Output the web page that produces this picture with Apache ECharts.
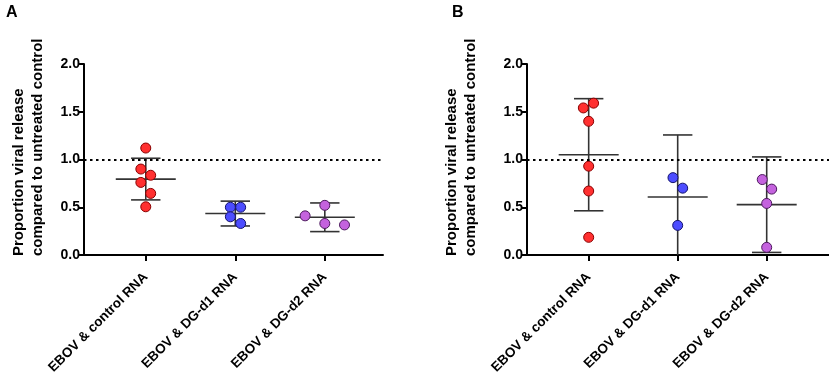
<!DOCTYPE html>
<html>
<head>
<meta charset="utf-8">
<script src="https://cdn.jsdelivr.net/npm/echarts@6.0.0/dist/echarts.min.js"></script>
<style>
  html, body { margin: 0; padding: 0; background: #fff; }
  #chart { width: 829px; height: 384px; }
</style>
</head>
<body>
<div id="chart"></div>
<script>
  // groups on the x axis
  var categories = ['EBOV & control RNA', 'EBOV & DG-d1 RNA', 'EBOV & DG-d2 RNA'];
  var yTicks = [0, 0.5, 1.0, 1.5, 2.0];

  // panel A – individual replicates
  var ctrlA = [1.12, 0.90, 0.835, 0.76, 0.645, 0.505];
  var d1A = [0.50, 0.50, 0.40, 0.33];
  var d2A = [0.52, 0.41, 0.33, 0.315];
  var meanA = [0.795, 0.434, 0.395];
  var sdA = [0.218, 0.13, 0.15];
  var pTextA = ['P=0.024', 'P=0.001', 'P=0.001'];
  var pYA = [1.56, 1.14, 1.14];

  // panel B – individual replicates
  var ctrlB = [1.59, 1.54, 1.40, 0.93, 0.67, 0.185];
  var d1B = [0.81, 0.70, 0.31];
  var d2B = [0.79, 0.69, 0.54, 0.08];
  var meanB = [1.05, 0.607, 0.527];
  var sdB = [0.587, 0.65, 0.50];
  var pTextB = ['', 'P=0.118', 'P=0.054'];
  var pYB = [null, 1.41, 1.41];

  // horizontal scatter offsets of the dots (as in the figure)
  var jitCtrlA = [0, -0.055, 0.055, -0.055, 0.055, 0];
  var jitD1A = [-0.055, 0.06, -0.055, 0.06];
  var jitD2A = [0, -0.22, 0, 0.22];
  var jitCtrlB = [0.055, -0.06, 0, 0, 0, 0];
  var jitD1B = [-0.053, 0.056, 0];
  var jitD2B = [-0.05, 0.056, 0, 0];

  var FONT = "'Liberation Sans', Arial, sans-serif";
  var colors = [
    { fill: '#ff3030', border: '#8a0000' },
    { fill: '#4d4dff', border: '#14146e' },
    { fill: '#c462de', border: '#4d1a5e' }
  ];

  function pts(values, jit, idx) {
    return values.map(function (v, i) { return [idx + jit[i], v]; });
  }

  function errorBars(means, sds) {
    return means.map(function (m, i) { return [i, m, sds[i]]; });
  }

  function renderBar(params, api) {
    var x = api.value(0), m = api.value(1), s = api.value(2);
    var c = api.coord([x, m]);
    var hi = api.coord([x, m + s]);
    var lo = api.coord([x, Math.max(0, m - s)]);
    var st = { stroke: '#333', lineWidth: 1.6 };
    var kids = [
      { type: 'line', shape: { x1: c[0] - 30, y1: c[1], x2: c[0] + 30, y2: c[1] }, style: st },
      { type: 'line', shape: { x1: c[0], y1: hi[1], x2: c[0], y2: lo[1] }, style: st },
      { type: 'line', shape: { x1: c[0] - 14.7, y1: hi[1], x2: c[0] + 14.7, y2: hi[1] }, style: st }
    ];
    if (m - s >= 0) {
      kids.push({ type: 'line', shape: { x1: c[0] - 14.7, y1: lo[1], x2: c[0] + 14.7, y2: lo[1] }, style: st });
    }
    return { type: 'group', children: kids };
  }

  function panelSeries(gi, groups, means, sds, pText, pY) {
    var out = [];
    out.push({
      type: 'custom',
      xAxisIndex: gi, yAxisIndex: gi,
      renderItem: renderBar,
      data: errorBars(means, sds),
      silent: true, z: 2
    });
    groups.forEach(function (g, idx) {
      out.push({
        type: 'scatter',
        xAxisIndex: gi, yAxisIndex: gi,
        symbolSize: 10,
        itemStyle: { color: colors[idx].fill, borderColor: colors[idx].border, borderWidth: 1, opacity: 1 },
        data: pts(g[0], g[1], idx),
        silent: true, z: 4,
        markLine: idx === 0 ? {
          silent: true, symbol: 'none', label: { show: false },
          lineStyle: { color: '#000', type: [2.5, 3.5], width: 2 },
          data: [{ yAxis: 1 }]
        } : undefined
      });
    });
    var labels = [];
    pText.forEach(function (t, i) { if (t) labels.push({ value: [i, pY[i]], name: t }); });
    out.push({
      type: 'scatter',
      xAxisIndex: gi, yAxisIndex: gi,
      symbolSize: 1,
      itemStyle: { opacity: 0 },
      label: {
        show: true, position: 'inside', formatter: '{b}',
        color: '#000', fontWeight: 'bold', fontSize: 12, fontFamily: FONT
      },
      data: labels, silent: true, z: 5
    });
    return out;
  }

  function xAxisCfg(gi, min, max) {
    return {
      type: 'value', gridIndex: gi, min: min, max: max,
      axisLine: { onZero: false, lineStyle: { color: '#000', width: 2 } },
      axisTick: { customValues: [0, 1, 2], length: 6, lineStyle: { color: '#000', width: 2 } },
      axisLabel: {
        customValues: [0, 1, 2], rotate: 45, margin: 20,
        color: '#000', fontSize: 13.5, fontWeight: 'bold', fontFamily: FONT,
        formatter: function (v) { return categories[Math.round(v)]; }
      },
      splitLine: { show: false }
    };
  }

  function yAxisCfg(gi) {
    return {
      type: 'value', gridIndex: gi, min: yTicks[0], max: yTicks[yTicks.length - 1], interval: 0.5,
      axisLine: { show: true, onZero: false, lineStyle: { color: '#000', width: 2 } },
      axisTick: { show: true, length: 5, lineStyle: { color: '#000', width: 2 } },
      axisLabel: {
        color: '#000', fontSize: 14, fontWeight: 'bold', fontFamily: FONT, margin: 4,
        formatter: function (v) { return v.toFixed(1); }
      },
      splitLine: { show: false }
    };
  }

  var yTitle = 'Proportion viral release\ncompared to untreated control';

  var chart = echarts.init(document.getElementById('chart'), null, { renderer: 'canvas' });
  chart.setOption({
    animation: false,
    backgroundColor: '#fff',
    grid: [
      { left: 84, top: 64, width: 299, height: 191 },
      { left: 527, top: 64, width: 302, height: 191 }
    ],
    xAxis: [xAxisCfg(0, -0.69, 2.65), xAxisCfg(1, -0.693, 2.70)],
    yAxis: [yAxisCfg(0), yAxisCfg(1)],
    graphic: [
      { type: 'text', left: 6, top: 5, style: { text: 'A', font: 'bold 16px ' + FONT, fill: '#000' } },
      { type: 'text', left: 452, top: 5, style: { text: 'B', font: 'bold 16px ' + FONT, fill: '#000' } },
      {
        type: 'text', x: 28, y: 256, rotation: Math.PI / 2,
        style: { text: yTitle, font: 'bold 15px ' + FONT, fill: '#000', align: 'left', verticalAlign: 'middle', lineHeight: 19 }
      },
      {
        type: 'text', x: 461, y: 256, rotation: Math.PI / 2,
        style: { text: yTitle, font: 'bold 15px ' + FONT, fill: '#000', align: 'left', verticalAlign: 'middle', lineHeight: 19 }
      }
    ],
    series: [].concat(
      panelSeries(0, [[ctrlA, jitCtrlA], [d1A, jitD1A], [d2A, jitD2A]], meanA, sdA, pTextA, pYA),
      panelSeries(1, [[ctrlB, jitCtrlB], [d1B, jitD1B], [d2B, jitD2B]], meanB, sdB, pTextB, pYB)
    )
  });
</script>
</body>
</html>
